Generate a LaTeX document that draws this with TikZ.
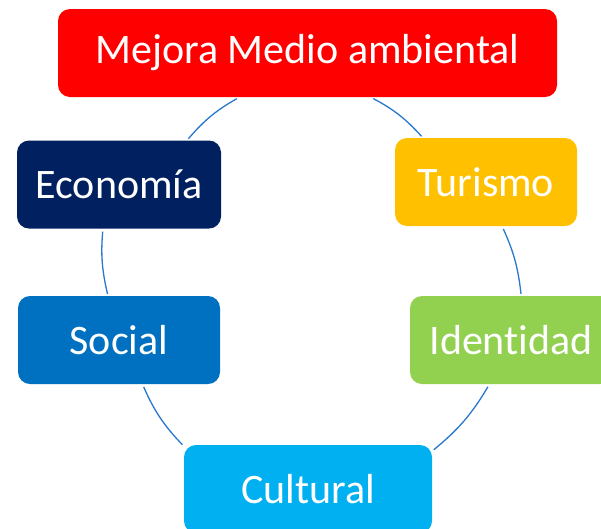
\documentclass[tikz,border=0pt]{standalone}
\usepackage{fontspec}
\setmainfont{Carlito}[Ligatures=NoCommon]
\usepackage{xcolor}
\definecolor{rojo}{HTML}{FF0000}
\definecolor{marino}{HTML}{002060}
\definecolor{ambar}{HTML}{FFC000}
\definecolor{azul}{HTML}{0070C0}
\definecolor{verde}{HTML}{92D050}
\definecolor{celeste}{HTML}{00B0F0}
\definecolor{linea}{RGB}{40,120,205}

\begin{document}
\begin{tikzpicture}[x=1pt,y=-1pt,
  box/.style={rounded corners=12pt, inner sep=0pt, minimum height=88pt, text=white, font=\fontsize{42}{50}\selectfont},
  link/.style={draw=linea, line width=1.3pt, shorten <=3pt, shorten >=2pt}]
\useasboundingbox (0,0) rectangle (601,528);
\clip (0,0) rectangle (601,528);
\node[box, fill=rojo, minimum width=499pt] (mejora) at (307.5,53) {Mejora Medio ambiental};
\node[box, fill=marino, minimum width=204pt] (economia) at (119,184.5) {Economía};
\node[box, fill=ambar, minimum width=182pt] (turismo) at (486,182) {Turismo};
\node[box, fill=azul, minimum width=202pt] (social) at (119,340) {Social};
\node[box, fill=verde, minimum width=202pt] (identidad) at (511,340) {Identidad};
\node[box, fill=celeste, minimum width=248pt] (cultural) at (308,489) {Cultural};
% anillo
\draw[link] (mejora.213.5) to[bend right=10] (economia.33.6);
\draw[link] (mejora.325.7) to[bend left=10] (turismo.145.9);
\draw[link] (economia.250.2) to[bend right=9] (social.104);
\draw[link] (turismo.290) to[bend left=9] (identidad.77.5);
\draw[link] (social.298.6) to[bend right=10] (cultural.161.7);
\draw[link] (identidad.244) to[bend left=10] (cultural.17.9);
\end{tikzpicture}
\end{document}
